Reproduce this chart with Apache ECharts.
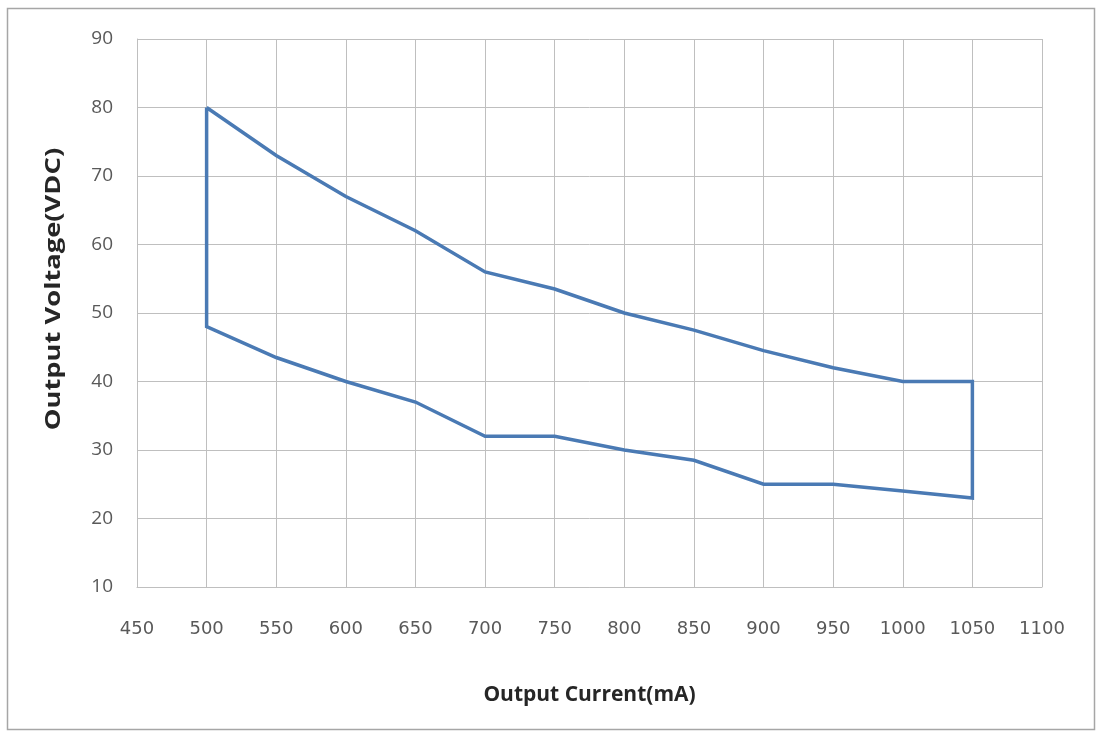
<!DOCTYPE html>
<html>
<head>
<meta charset="utf-8">
<script src="https://cdn.jsdelivr.net/npm/echarts@6/dist/echarts.min.js"></script>
<style>
html,body{margin:0;padding:0;background:#fff;}
#c{width:1096px;height:734px;}
</style>
</head>
<body>
<div id="c"></div>
<script>
// Envelope outline: upper limit (left to right), right edge, lower limit (right to left), left edge
const currentMA = [500, 550, 600, 650, 700, 750, 800, 850, 900, 950, 1000, 1050,
                   1050, 1000, 950, 900, 850, 800, 750, 700, 650, 600, 550, 500, 500];
const voltageVDC = [80, 73, 67, 62, 56, 53.5, 50, 47.5, 44.5, 42, 40, 40,
                    23, 24, 25, 25, 28.5, 30, 32, 32, 37, 40, 43.5, 48, 80];
const xTicks = {min: 450, max: 1100, interval: 50};
const yTicks = {min: 10, max: 90, interval: 10};
const xTitle = 'Output Current(mA)';
const yTitle = 'Output Voltage(VDC)';

const chart = echarts.init(document.getElementById('c'));
const data = currentMA.map((x, i) => [x, voltageVDC[i]]);
chart.setOption({
  animation: false,
  graphic: [{
    type: 'rect',
    shape: {x: 7.5, y: 8.5, width: 1087, height: 721},
    style: {fill: 'none', stroke: '#a6a6a6', lineWidth: 1.5},
    silent: true
  }, {
    type: 'text',
    x: 54, y: 289,
    rotation: Math.PI / 2,
    scaleX: 1.3,
    style: {
      text: yTitle,
      font: 'bold 21px "Open Sans"',
      fill: '#262626',
      align: 'center',
      verticalAlign: 'middle'
    },
    silent: true
  }],
  grid: {left: 137, right: 54, top: 39, bottom: 147},
  xAxis: {
    type: 'value',
    min: xTicks.min, max: xTicks.max, interval: xTicks.interval,
    name: xTitle,
    nameLocation: 'middle',
    nameGap: 98,
    nameTextStyle: {fontFamily: 'Open Sans', fontWeight: 'bold', fontSize: 21, color: '#262626'},
    axisLine: {show: true, lineStyle: {color: '#bfbfbf', width: 1}},
    axisTick: {show: false},
    axisLabel: {fontFamily: 'DejaVu Sans', fontSize: 18, color: '#595959', margin: 33,
                formatter: v => String(v)},
    splitLine: {show: true, lineStyle: {color: '#bfbfbf', width: 1}}
  },
  yAxis: {
    type: 'value',
    min: yTicks.min, max: yTicks.max, interval: yTicks.interval,
    axisLine: {show: true, lineStyle: {color: '#bfbfbf', width: 1}},
    axisTick: {show: false},
    axisLabel: {fontFamily: 'Open Sans', fontSize: 19, color: '#595959', margin: 24,
                formatter: v => String(v)},
    splitLine: {show: true, lineStyle: {color: '#bfbfbf', width: 1}}
  },
  series: [{
    type: 'line',
    data: data,
    showSymbol: false,
    symbol: 'none',
    lineStyle: {color: '#4a7ab4', width: 3.5, join: 'miter'},
    itemStyle: {color: '#4a7ab4'}
  }]
});
</script>
</body>
</html>
